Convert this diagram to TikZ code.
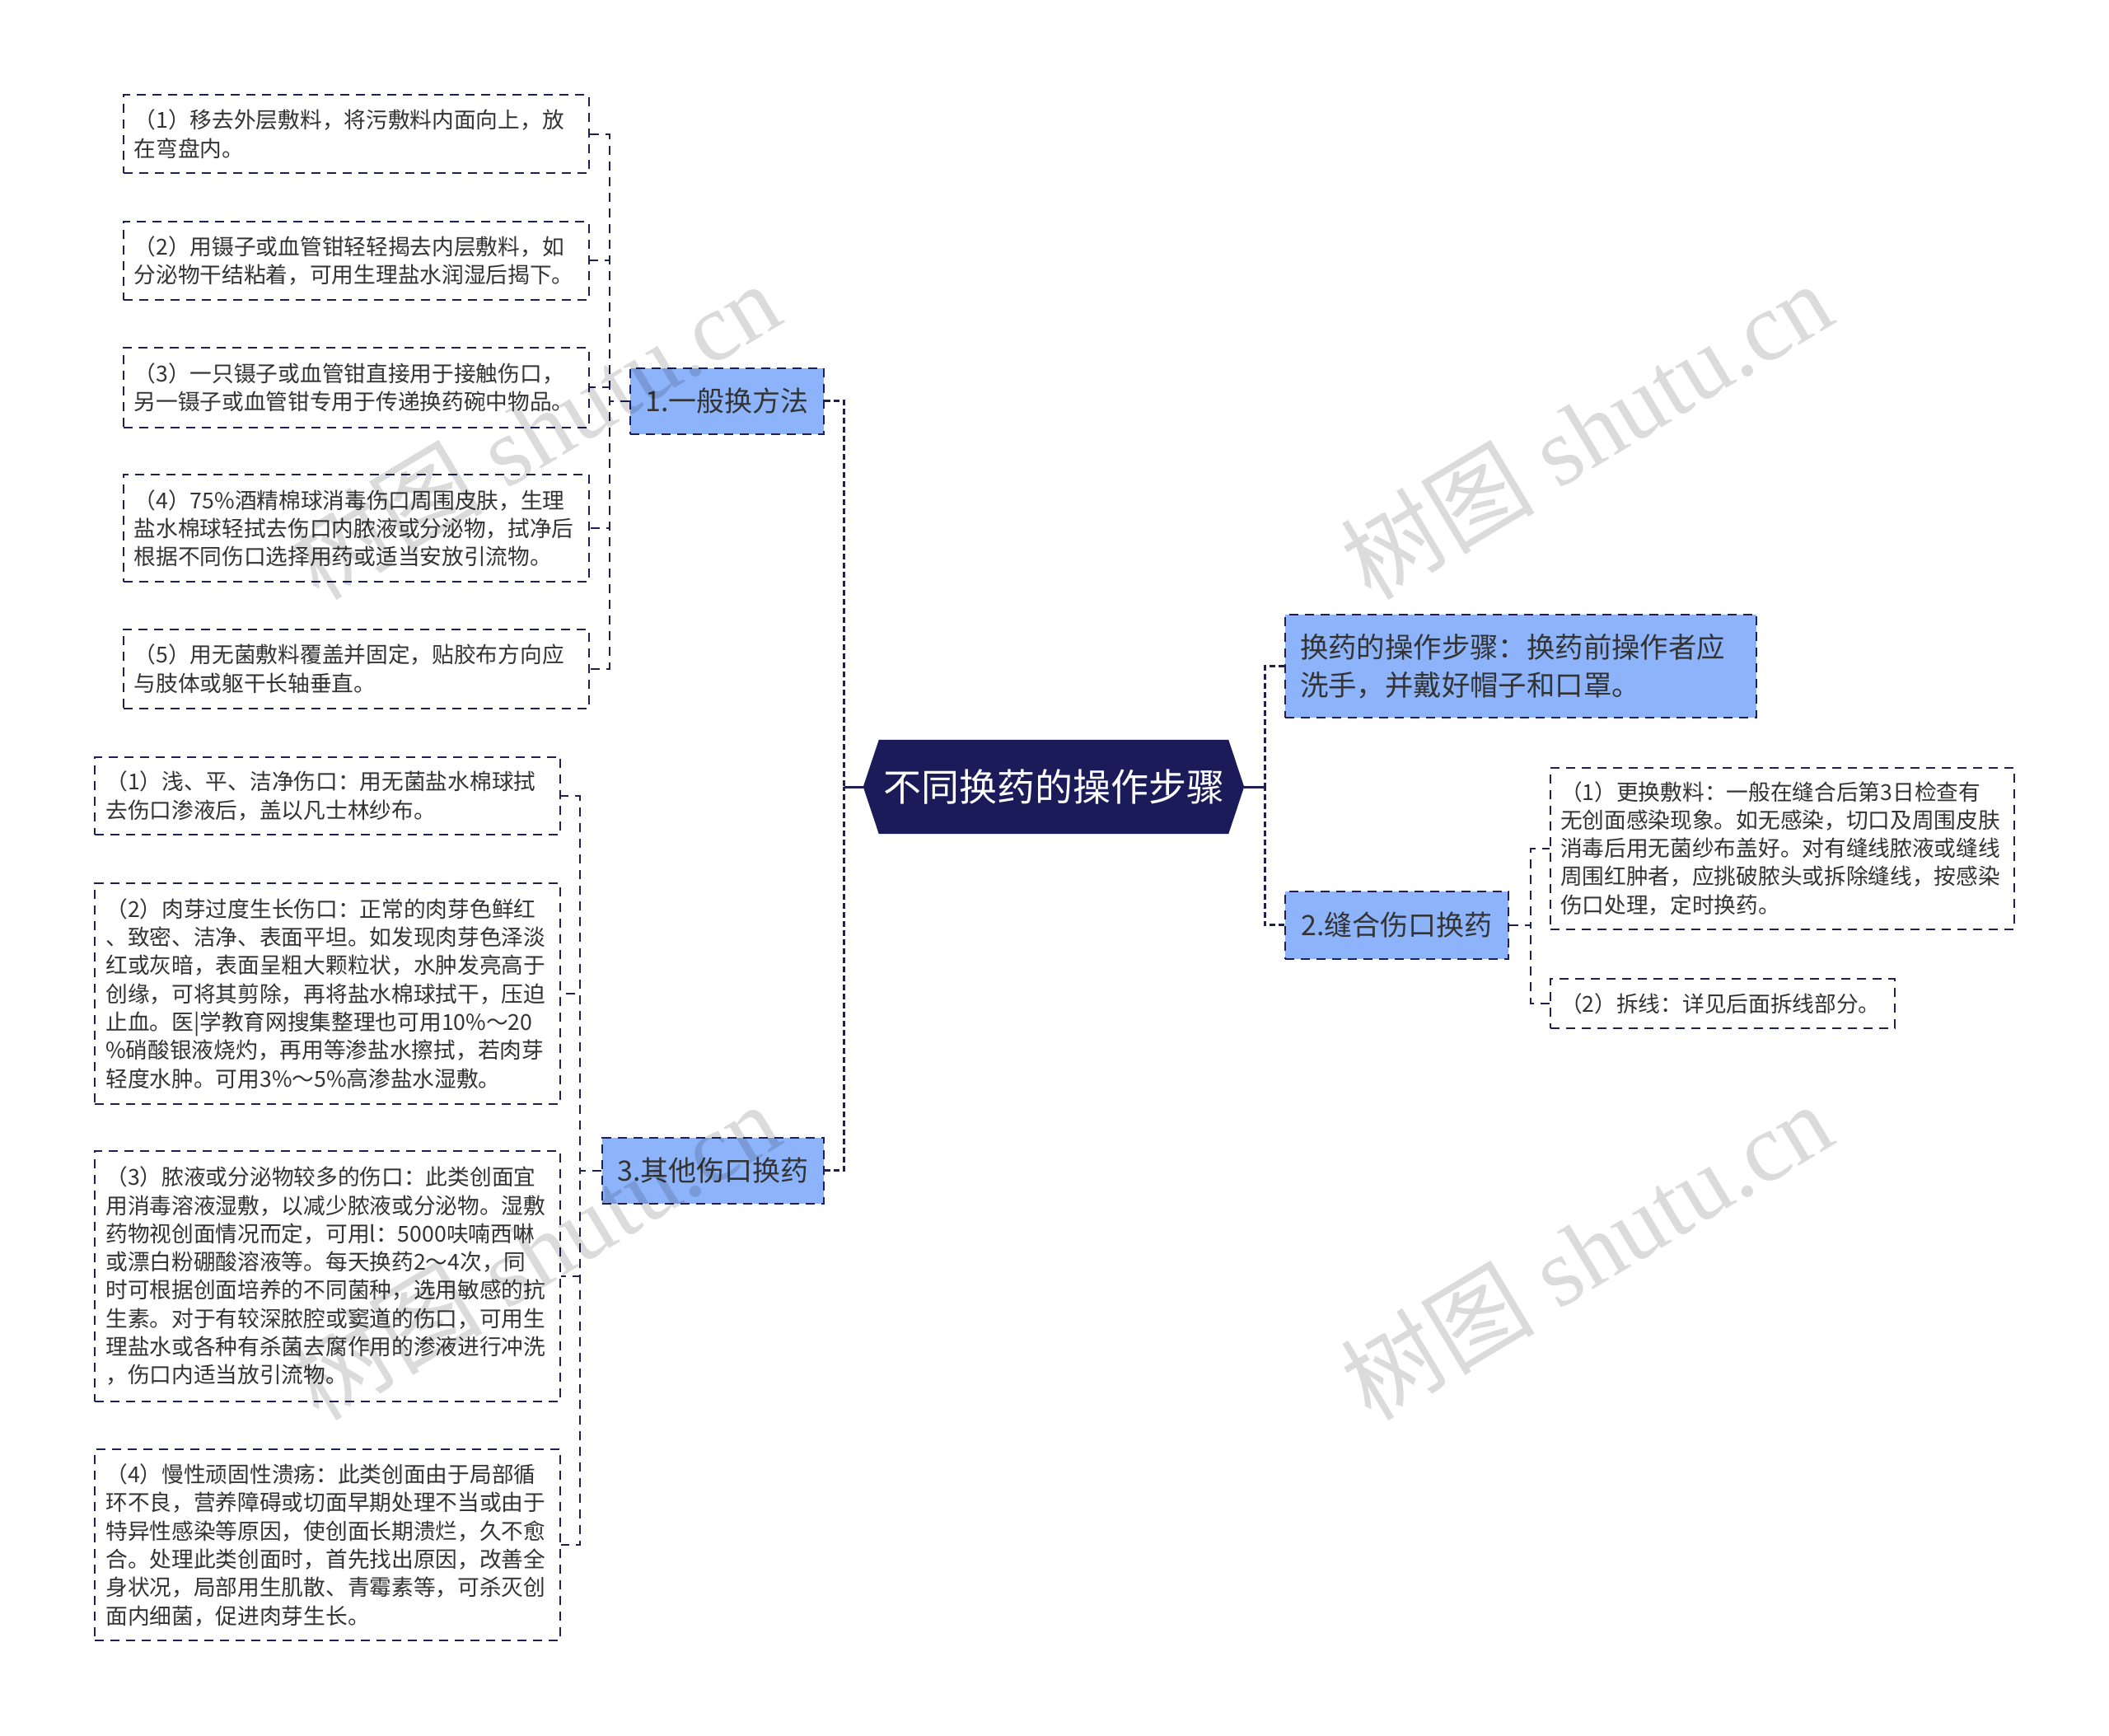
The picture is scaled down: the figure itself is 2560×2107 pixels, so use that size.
\documentclass[tikz,border=0pt]{standalone}
\usepackage{fontspec}
\setmainfont{Noto Sans CJK SC}
\newfontfamily\wmlatin{Liberation Serif}
\newfontfamily\wmcjk{Noto Sans CJK SC}
\usetikzlibrary{backgrounds,calc}
\definecolor{navy}{RGB}{30,32,82}
\definecolor{rootfill}{RGB}{28,27,90}
\definecolor{bluefill}{RGB}{141,180,250}
\definecolor{txt}{RGB}{51,51,51}
\begin{document}
\begin{tikzpicture}[x=1pt,y=-1pt,
  boxline/.style={draw=navy, line width=2pt, dash pattern=on 11pt off 8pt},
  leaf/.style={boxline, fill=white, text=txt, font=\fontsize{26.7}{34.3}\selectfont,
    align=left, inner xsep=13pt, inner ysep=0pt, anchor=north west},
  branch/.style={boxline, fill=bluefill, text=txt, font=\fontsize{34}{46}\selectfont,
    inner sep=0pt, anchor=north west},
  conn/.style={draw=navy, line width=2pt, dash pattern=on 11pt off 8pt},
  rootconn/.style={draw=navy, line width=3pt, dash pattern=on 7pt off 4pt},
  rootstub/.style={draw=navy, line width=3pt},
  wm/.style={text=black, text opacity=0.14, font=\fontsize{118}{118}\selectfont\wmlatin, inner sep=0pt}
]
\useasboundingbox (0,0) rectangle (2560,2107);

% root
\node[text=white, font=\fontsize{46}{50}\selectfont, minimum width=462pt, minimum height=114pt, inner sep=0pt] (root) at (1279,955) {不同换药的操作步骤};
\begin{scope}[on background layer]
\fill[rootfill] (root.west) -- ([xshift=19pt]root.north west) -- ([xshift=-19pt]root.north east) -- (root.east) -- ([xshift=-19pt]root.south east) -- ([xshift=19pt]root.south west) -- cycle;
\end{scope}

% branches
\node[branch, minimum width=235pt, minimum height=80pt] (n1) at (764,445.7) {1.一般换方法};
\node[branch, minimum width=269.4pt, minimum height=80pt] (n3) at (729.8,1379.6) {3.其他伤口换药};
\node[branch, minimum width=572pt, minimum height=125.7pt, text width=536pt, inner xsep=18pt, align=left, font=\fontsize{34.4}{46}\selectfont] (r1) at (1559,744.5) {换药的操作步骤：换药前操作者应\\洗手，并戴好帽子和口罩。};
\node[branch, minimum width=271pt, minimum height=81.5pt] (r2) at (1559,1081) {2.缝合伤口换药};

% group 1 leaves
\node[leaf, text width=539pt, minimum height=94.7pt] (b1) at (148.6,114.3) {（1）移去外层敷料，将污敷料内面向上，放\\在弯盘内。};
\node[leaf, text width=539pt, minimum height=94.7pt] (b2) at (148.6,267.8) {（2）用镊子或血管钳轻轻揭去内层敷料，如\\分泌物干结粘着，可用生理盐水润湿后揭下。};
\node[leaf, text width=539pt, minimum height=96.4pt] (b3) at (148.6,421.2) {（3）一只镊子或血管钳直接用于接触伤口，\\另一镊子或血管钳专用于传递换药碗中物品。};
\node[leaf, text width=539pt, minimum height=130.6pt] (b4) at (148.6,574.7) {（4）75\%酒精棉球消毒伤口周围皮肤，生理\\盐水棉球轻拭去伤口内脓液或分泌物，拭净后\\根据不同伤口选择用药或适当安放引流物。};
\node[leaf, text width=539pt, minimum height=96.3pt] (b5) at (148.6,762.5) {（5）用无菌敷料覆盖并固定，贴胶布方向应\\与肢体或躯干长轴垂直。};

% group 3 leaves
\node[leaf, text width=539pt, minimum height=94.7pt] (c1) at (114.3,917.6) {（1）浅、平、洁净伤口：用无菌盐水棉球拭\\去伤口渗液后，盖以凡士林纱布。};
\node[leaf, text width=539pt, minimum height=267.8pt] (c2) at (114.3,1071) {（2）肉芽过度生长伤口：正常的肉芽色鲜红\\、致密、洁净、表面平坦。如发现肉芽色泽淡\\红或灰暗，表面呈粗大颗粒状，水肿发亮高于\\创缘，可将其剪除，再将盐水棉球拭干，压迫\\止血。医|学教育网搜集整理也可用10\%～20\\\%硝酸银液烧灼，再用等渗盐水擦拭，若肉芽\\轻度水肿。可用3\%～5\%高渗盐水湿敷。};
\node[leaf, text width=539pt, minimum height=303.6pt] (c3) at (114.3,1396) {（3）脓液或分泌物较多的伤口：此类创面宜\\用消毒溶液湿敷，以减少脓液或分泌物。湿敷\\药物视创面情况而定，可用l：5000呋喃西啉\\或漂白粉硼酸溶液等。每天换药2～4次，同\\时可根据创面培养的不同菌种，选用敏感的抗\\生素。对于有较深脓腔或窦道的伤口，可用生\\理盐水或各种有杀菌去腐作用的渗液进行冲洗\\，伤口内适当放引流物。};
\node[leaf, text width=539pt, minimum height=231.9pt] (c4) at (114.3,1758.4) {（4）慢性顽固性溃疡：此类创面由于局部循\\环不良，营养障碍或切面早期处理不当或由于\\特异性感染等原因，使创面长期溃烂，久不愈\\合。处理此类创面时，首先找出原因，改善全\\身状况，局部用生肌散、青霉素等，可杀灭创\\面内细菌，促进肉芽生长。};

% group 2 leaves
\node[leaf, text width=539pt, inner xsep=12pt, minimum height=196pt] (d1) at (1881,930.6) {（1）更换敷料：一般在缝合后第3日检查有\\无创面感染现象。如无感染，切口及周围皮肤\\消毒后用无菌纱布盖好。对有缝线脓液或缝线\\周围红肿者，应挑破脓头或拆除缝线，按感染\\伤口处理，定时换药。};
\node[leaf, text width=394pt, inner xsep=12pt, minimum height=60.4pt] (d2) at (1881,1187) {（2）拆线：详见后面拆线部分。};

% root connectors
\coordinate (busL) at ($(root.west)+(-23,0)$);
\coordinate (busR) at ($(root.east)+(25,0)$);
\draw[rootstub] (root.west) -- (busL);
\draw[rootstub] (root.east) -- (busR);
\draw[rootconn] (n1.east) -| (busL);
\draw[rootconn] (n3.east) -| (busL);
\draw[rootconn] (r1.west) -| (busR);
\draw[rootconn] (r2.west) -| (busR);

% branch 1 connectors
\coordinate (bus1) at ($(n1.west)+(-24.4,0)$);
\foreach \k in {b1,b2,b3,b4,b5} \draw[conn] (n1.west) -- (bus1) |- (\k.east);
% branch 3 connectors
\coordinate (bus3) at ($(n3.west)+(-26,0)$);
\foreach \k in {c1,c2,c3,c4} \draw[conn] (n3.west) -- (bus3) |- (\k.east);
% branch 2 connectors
\coordinate (bus2) at ($(r2.east)+(26,0)$);
\foreach \k in {d1,d2} \draw[conn] (r2.east) -- (bus2) |- (\k.west);

% watermarks
\node[wm, rotate=31] (wm1) at (648,522) {{\wmcjk 树图} shutu.cn};
\node[wm, rotate=31] (wm2) at (1925,522) {{\wmcjk 树图} shutu.cn};
\node[wm, rotate=31] (wm3) at (648,1518) {{\wmcjk 树图} shutu.cn};
\node[wm, rotate=31] (wm4) at (1925,1518) {{\wmcjk 树图} shutu.cn};
\end{tikzpicture}
\end{document}
